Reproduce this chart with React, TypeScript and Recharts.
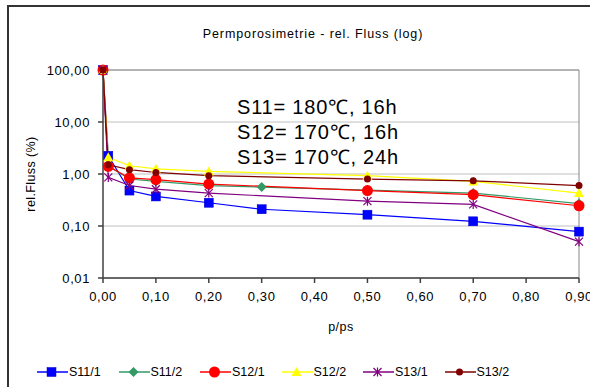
import React from 'react';
import { LineChart, Line, XAxis, YAxis, CartesianGrid, Legend, ReferenceLine, Label } from 'recharts';

const xS11 = [0, 0.01, 0.05, 0.1, 0.2, 0.3, 0.5, 0.7, 0.9];
const xS12 = [0, 0.01, 0.05, 0.1, 0.2, 0.5, 0.7, 0.9];

const s11_1 = [100, 2.24, 0.48, 0.37, 0.28, 0.21, 0.165, 0.123, 0.078];
const s11_2 = [100, 1.42, 0.8, 0.72, 0.6, 0.56, 0.49, 0.43, 0.27];
const s12_1 = [100, 1.4, 0.84, 0.78, 0.64, 0.48, 0.4, 0.245];
const s12_2 = [100, 2.1, 1.44, 1.26, 1.12, 0.93, 0.72, 0.43];
const s13_1 = [100, 0.86, 0.6, 0.51, 0.43, 0.3, 0.26, 0.05];
const s13_2 = [100, 1.5, 1.21, 1.07, 0.93, 0.8, 0.74, 0.6];

const xTicks = [0, 0.1, 0.2, 0.3, 0.4, 0.5, 0.6, 0.7, 0.8, 0.9];
const yTicks = [0.01, 0.1, 1, 10, 100];

const notes = ['S11= 180\u2103, 16h', 'S12= 170\u2103, 16h', 'S13= 170\u2103, 24h'];

const toPoints = (xs: number[], ys: number[]) => xs.map((x, i) => ({ x, y: ys[i] }));

const FONT = '"Liberation Sans", Arial, sans-serif';
const fmt = (v: number) => v.toFixed(2).replace('.', ',');

type Shape = 'square' | 'diamond' | 'circle' | 'triangle' | 'star' | 'dot';

const drawMarker = (shape: Shape, color: string, cx: number, cy: number, key?: any) => {
  switch (shape) {
    case 'square':
      return <rect key={key} x={cx - 4.5} y={cy - 4.5} width={9} height={9} fill={color} stroke="#0000cc" strokeWidth={0.5} />;
    case 'diamond':
      return <polygon key={key} points={`${cx},${cy - 5} ${cx + 5},${cy} ${cx},${cy + 5} ${cx - 5},${cy}`} fill={color} />;
    case 'circle':
      return <circle key={key} cx={cx} cy={cy} r={5.5} fill={color} />;
    case 'triangle':
      return <polygon key={key} points={`${cx},${cy - 5} ${cx + 5},${cy + 4} ${cx - 5},${cy + 4}`} fill={color} />;
    case 'star':
      return (
        <g key={key} stroke={color} strokeWidth={1.2}>
          <line x1={cx - 4} y1={cy - 4} x2={cx + 4} y2={cy + 4} />
          <line x1={cx - 4} y1={cy + 4} x2={cx + 4} y2={cy - 4} />
          <line x1={cx} y1={cy - 4.5} x2={cx} y2={cy + 4.5} />
        </g>
      );
    default:
      return <circle key={key} cx={cx} cy={cy} r={3.5} fill={color} />;
  }
};

const series = [
  { name: 'S11/1', data: toPoints(xS11, s11_1), color: '#0000ff', shape: 'square' as Shape },
  { name: 'S11/2', data: toPoints(xS11, s11_2), color: '#339966', shape: 'diamond' as Shape },
  { name: 'S12/1', data: toPoints(xS12, s12_1), color: '#ff0000', shape: 'circle' as Shape },
  { name: 'S12/2', data: toPoints(xS12, s12_2), color: '#ffff00', shape: 'triangle' as Shape },
  { name: 'S13/1', data: toPoints(xS12, s13_1), color: '#800080', shape: 'star' as Shape },
  { name: 'S13/2', data: toPoints(xS12, s13_2), color: '#800000', shape: 'dot' as Shape },
];

const renderLegend = () => (
  <div style={{ display: 'flex', paddingLeft: 37, height: 16, alignItems: 'center', fontFamily: FONT, fontSize: 12.5 }}>
    {series.map((s) => (
      <div key={s.name} style={{ width: 81.5, display: 'flex', alignItems: 'center' }}>
        <svg width={32} height={12}>
          <line x1={0} y1={6} x2={31} y2={6} stroke={s.color} strokeWidth={1.5} />
          {drawMarker(s.shape, s.color, 14.5, 6)}
        </svg>
        <span style={{ color: '#000' }}>{s.name}</span>
      </div>
    ))}
  </div>
);

const renderYLabel = (props: any) => {
  const vb = props.viewBox || {};
  const x = vb.x - 12;
  const y = vb.y + vb.height / 2;
  return (
    <text x={x} y={y} transform={`rotate(-90 ${x} ${y})`} textAnchor="middle" dominantBaseline="central"
      fontFamily={FONT} fontSize={12.5} fill="#000" letterSpacing={0.4}>
      rel.Fluss (%)
    </text>
  );
};

export default function App() {
  return (
    <div style={{ position: 'absolute', left: 0, top: 0, width: 590, height: 387, background: '#fff', overflow: 'hidden' }}>
      <div style={{ position: 'absolute', left: 7, top: 5, width: 600, height: 400, borderTop: '2px solid #333', borderLeft: '2px solid #333' }} />
      <div style={{ position: 'absolute', left: 0, top: 27, width: 626, textAlign: 'center', fontFamily: FONT, fontSize: 12.5, letterSpacing: 0.9 }}>
        Permporosimetrie - rel. Fluss (log)
      </div>
      <LineChart width={590} height={387} margin={{ top: 70, right: 11, left: 43, bottom: 38 }} style={{ position: 'absolute', left: 0, top: 0 }}>
        <CartesianGrid vertical={false} stroke="#c0c0c0" />
        <XAxis type="number" dataKey="x" domain={[0, 0.9]} ticks={xTicks} interval={0} tickFormatter={fmt}
          height={55} tickSize={5} tickMargin={9} stroke="#404040" strokeWidth={1.5}
          tick={{ fill: '#000', fontSize: 13, fontFamily: FONT, letterSpacing: 0.6 }}>
          <Label value="p/ps" position="insideBottom" offset={2} style={{ fontFamily: FONT, fontSize: 12.5, fill: '#000', letterSpacing: 0.5 }} />
        </XAxis>
        <YAxis type="number" scale="log" domain={[0.01, 100]} ticks={yTicks} interval={0} tickFormatter={fmt}
          width={60} tickSize={5} tickMargin={8} stroke="#404040" strokeWidth={1.5}
          tick={{ fill: '#000', fontSize: 13, fontFamily: FONT, letterSpacing: 0.6 }}>
          <Label content={renderYLabel} />
        </YAxis>
        <ReferenceLine y={100} stroke="#888" />
        <ReferenceLine x={0.9} stroke="#888" />
        <Legend content={renderLegend} verticalAlign="bottom" wrapperStyle={{ top: 364, left: 0, width: 590, bottom: 'auto' }} />
        {series.map((s) => (
          <Line key={s.name} data={s.data} dataKey="y" name={s.name} stroke={s.color} strokeWidth={1.2}
            type="linear" isAnimationActive={false} legendType="none"
            dot={(p: any) => drawMarker(s.shape, s.color, p.cx, p.cy, `${s.name}-${p.index}`)}
            activeDot={false} />
        ))}
      </LineChart>
      <svg style={{ position: 'absolute', left: 0, top: 0 }} width={590} height={387} pointerEvents="none">
        {notes.map((t, i) => (
          <text key={t} x={237} y={113.5 + i * 25.2} fontFamily={FONT} fontSize={20} letterSpacing={0.8} fill="#000">{t}</text>
        ))}
      </svg>
    </div>
  );
}
